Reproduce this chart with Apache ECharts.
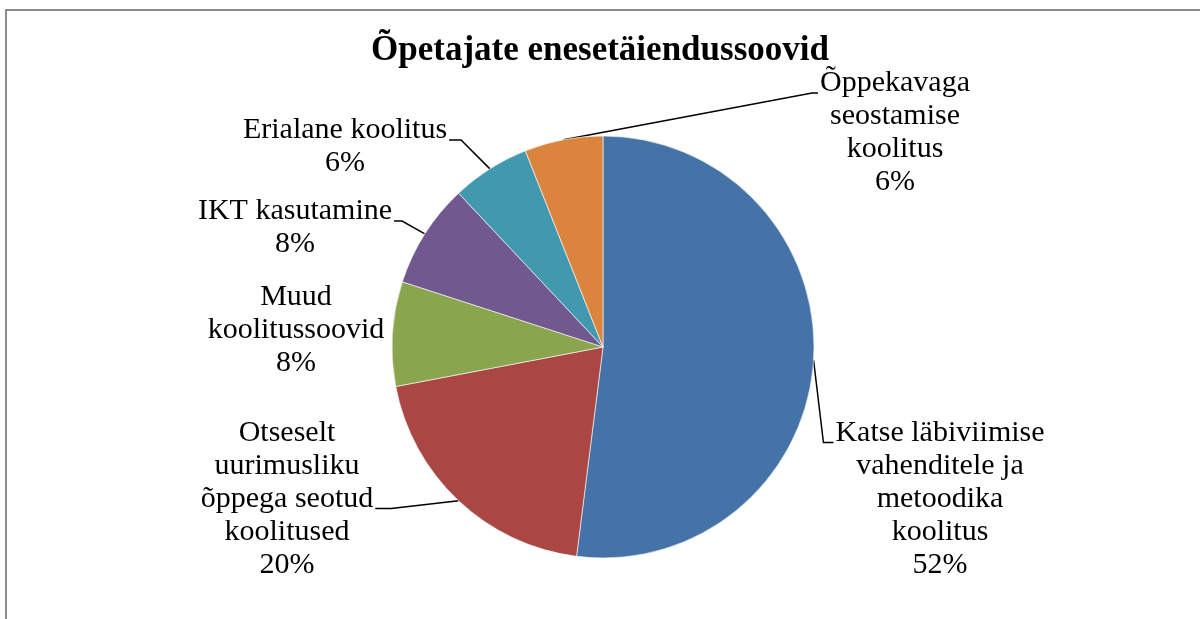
<!DOCTYPE html>
<html>
<head>
<meta charset="utf-8">
<script src="https://cdn.jsdelivr.net/npm/echarts@6/dist/echarts.min.js"></script>
<style>
html, body { margin: 0; padding: 0; background: #fff; }
#chart { width: 1200px; height: 619px; }
</style>
</head>
<body>
<div id="chart"></div>
<script>
var titleText = 'Õpetajate enesetäiendussoovid';
var categories = [
	'Katse läbiviimise vahenditele ja metoodika koolitus',
	'Otseselt uurimusliku õppega seotud koolitused',
	'Muud koolitussoovid',
	'IKT kasutamine',
	'Erialane koolitus',
	'Õppekavaga seostamise koolitus'
];
// label text as it is wrapped in the picture
var labelLines = [
	'Katse läbiviimise\nvahenditele ja\nmetoodika\nkoolitus',
	'Otseselt\nuurimusliku\nõppega seotud\nkoolitused',
	'Muud\nkoolitussoovid',
	'IKT kasutamine',
	'Erialane koolitus',
	'Õppekavaga\nseostamise\nkoolitus'
];
var values = [52, 20, 8, 8, 6, 6];
var colors = ['#4572A7', '#AA4643', '#89A54E', '#71588F', '#4198AF', '#DB843D'];

// where each label sits (centre of text block)
var labelPos = [
	[940, 499],
	[287, 499],
	[296, 330],
	[295, 228],
	[345, 147],
	[895, 133]
];
// which side / line of the label the leader line goes to, and the flat part
var leaderSide = ['left', 'right', 'none', 'right', 'right', 'left'];
var leaderLine = [0, 2, 0, 0, 0, 0];
var leaderFlat = [10, 16, 0, 8, 12, 6];

var LINE_H = 33;

var dom = document.getElementById('chart');
var myChart = echarts.init(dom);

var pieData = [];
values.forEach(function (v, i) {
	pieData.push({
		name: categories[i],
		value: v,
		itemStyle: { color: colors[i] },
		labelLine: { show: leaderSide[i] != 'none' }
	});
});

var option = {
	animation: false,
	title: {
		text: titleText,
		left: 'center',
		top: 28,
		textStyle: {
			fontFamily: "'Liberation Serif', 'Times New Roman', serif",
			fontWeight: 'bold',
			fontSize: 35,
			color: '#000'
		}
	},
	graphic: [{
		type: 'rect',
		shape: { x: 6, y: 10, width: 1300, height: 700 },
		style: { fill: 'none', stroke: '#8c8c8c', lineWidth: 2 },
		silent: true
	}],
	series: [{
		type: 'pie',
		center: [603, 347],
		radius: 211,
		startAngle: 90,
		clockwise: true,
		avoidLabelOverlap: false,
		itemStyle: {
			borderColor: 'rgba(255,255,255,0.6)',
			borderWidth: 1
		},
		label: {
			show: true,
			formatter: function (p) {
				return labelLines[p.dataIndex] + '\n' + p.value + '%';
			},
			fontFamily: "'Liberation Serif', 'Times New Roman', serif",
			fontSize: 30,
			lineHeight: LINE_H,
			color: '#000',
			align: 'center'
		},
		labelLine: {
			show: true,
			length: 10,
			length2: 10,
			lineStyle: { color: '#000', width: 1.5 }
		},
		labelLayout: function (params) {
			var i = params.dataIndex;
			var p = labelPos[i];
			var res = {
				x: p[0],
				y: p[1],
				align: 'center',
				verticalAlign: 'middle'
			};
			if (leaderSide[i] != 'none' && params.labelLinePoints) {
				var start = params.labelLinePoints[0];
				var w = params.labelRect.width;
				var h = params.labelRect.height;
				var top = p[1] - h / 2;
				var ay = top + LINE_H * leaderLine[i] + 26;
				var ax, bx;
				if (leaderSide[i] == 'left') {
					ax = p[0] - w / 2 - 2;
					bx = ax - leaderFlat[i];
				} else {
					ax = p[0] + w / 2 + 2;
					bx = ax + leaderFlat[i];
				}
				res.labelLinePoints = [start, [bx, ay], [ax, ay]];
			}
			return res;
		},
		data: pieData
	}]
};

myChart.setOption(option);
</script>
</body>
</html>
